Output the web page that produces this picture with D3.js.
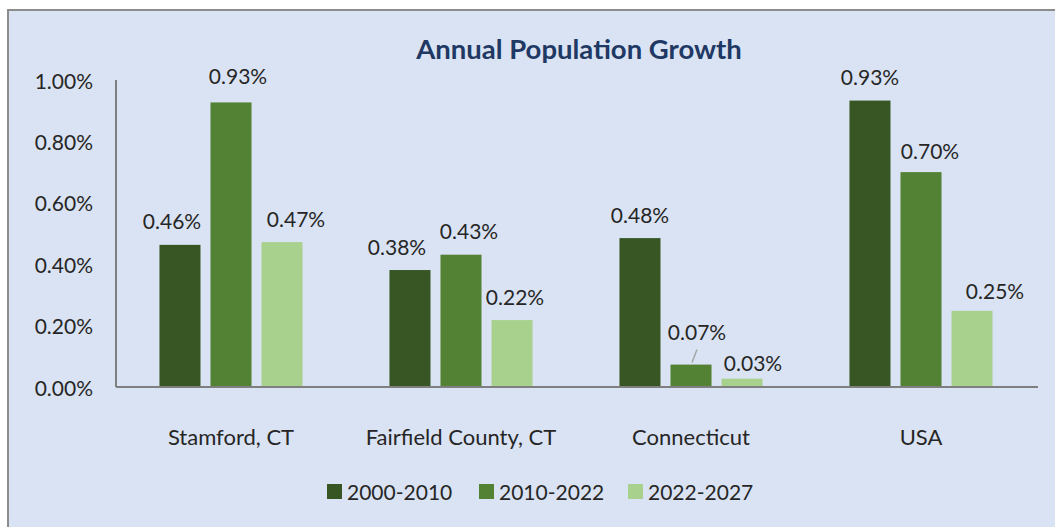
<!DOCTYPE html>
<html>
<head>
<meta charset="utf-8">
<script src="https://cdn.jsdelivr.net/npm/d3@7"></script>
<style>
  body { margin: 0; background: #fff; }
  svg text { font-family: Lato, "Open Sans", sans-serif; }
</style>
</head>
<body>
<svg id="chart" width="1055" height="527"></svg>
<script>
// data, in percent
const categories = ["Stamford, CT", "Fairfield County, CT", "Connecticut", "USA"];
const seriesNames = ["2000-2010", "2010-2022", "2022-2027"];
const growth2000_2010 = [0.463, 0.381, 0.485, 0.933];
const growth2010_2022 = [0.927, 0.431, 0.073, 0.700];
const growth2022_2027 = [0.472, 0.218, 0.027, 0.248];
const yTicks = [0, 0.2, 0.4, 0.6, 0.8, 1.0];

const seriesValues = [growth2000_2010, growth2010_2022, growth2022_2027];
const colors = ["#375623", "#548235", "#a9d18e"];

const svg = d3.select("#chart");
const width = +svg.attr("width");

// background + frame (right / bottom edges run off the picture)
svg.append("rect")
    .attr("x", 8).attr("y", 10)
    .attr("width", width + 10).attr("height", 540)
    .attr("fill", "#dae3f3")
    .attr("stroke", "#8c8c8c")
    .attr("stroke-width", 2);

const plotLeft = 116, plotRight = 1036, plotTop = 80, plotBottom = 387;

const x0 = d3.scaleBand()
    .domain(categories)
    .range([plotLeft, plotRight])
    .paddingInner(0.378)
    .paddingOuter(0.189);

const x1 = d3.scaleBand()
    .domain(seriesNames)
    .range([0, x0.bandwidth()])
    .paddingInner(0.196);

const y = d3.scaleLinear().domain([0, 1]).range([plotBottom, plotTop]);

svg.append("text")
    .attr("x", 579).attr("y", 48)
    .attr("text-anchor", "middle")
    .attr("dominant-baseline", "central")
    .attr("fill", "#1f3864")
    .style("font-size", "27.5px")
    .style("font-weight", "bold")
    .text("Annual Population Growth");

// y axis labels
svg.selectAll(".ytick")
    .data(yTicks)
    .enter().append("text")
    .attr("class", "ytick")
    .attr("x", 93)
    .attr("y", d => y(d))
    .attr("text-anchor", "end")
    .attr("dominant-baseline", "central")
    .attr("fill", "#262626")
    .style("font-size", "21px")
    .text(d => d.toFixed(2) + "%");

// bars
const rows = [];
categories.forEach((c, i) => {
    seriesNames.forEach((s, j) => {
        rows.push({ cat: c, series: s, si: j, ci: i, value: seriesValues[j][i] });
    });
});

svg.selectAll(".bar")
    .data(rows)
    .enter().append("rect")
    .attr("class", "bar")
    .attr("x", d => x0(d.cat) + x1(d.series))
    .attr("y", d => y(d.value))
    .attr("width", x1.bandwidth())
    .attr("height", d => y(0) - y(d.value))
    .attr("fill", d => colors[d.si]);

// axis lines
svg.append("line")
    .attr("x1", plotLeft).attr("x2", plotLeft)
    .attr("y1", plotTop).attr("y2", plotBottom)
    .attr("stroke", "#7f7f7f").attr("stroke-width", 2);
svg.append("line")
    .attr("x1", plotLeft).attr("x2", plotRight + 2)
    .attr("y1", plotBottom).attr("y2", plotBottom)
    .attr("stroke", "#7f7f7f").attr("stroke-width", 2);

// labels were hand-moved in the original, so nudge a few
const nudge = {
    "0-0": [-8, 0], "0-1": [7, -3], "0-2": [14, 0],
    "1-0": [-13, 0], "1-1": [8, 0], "1-2": [3, 0],
    "2-1": [6, -9], "2-2": [11, 8],
    "3-1": [9, 2], "3-2": [23, 4]
};

svg.selectAll(".val")
    .data(rows)
    .enter().append("text")
    .attr("class", "val")
    .attr("x", d => x0(d.cat) + x1(d.series) + x1.bandwidth() / 2 + (nudge[d.ci + "-" + d.si] || [0, 0])[0])
    .attr("y", d => y(d.value) - 24 + (nudge[d.ci + "-" + d.si] || [0, 0])[1])
    .attr("text-anchor", "middle")
    .attr("dominant-baseline", "central")
    .attr("fill", "#262626")
    .style("font-size", "21px")
    .text(d => d.value.toFixed(2) + "%");

// leader line for the small Connecticut label
const ctX = x0("Connecticut") + x1("2010-2022") + x1.bandwidth() / 2;
svg.append("line")
    .attr("x1", ctX + 6).attr("y1", y(growth2010_2022[2]) - 15)
    .attr("x2", ctX + 1).attr("y2", y(growth2010_2022[2]) - 2)
    .attr("stroke", "#a6a6a6").attr("stroke-width", 1.5);

// category labels
svg.selectAll(".cat")
    .data(categories)
    .enter().append("text")
    .attr("class", "cat")
    .attr("x", d => x0(d) + x0.bandwidth() / 2)
    .attr("y", 436)
    .attr("text-anchor", "middle")
    .attr("dominant-baseline", "central")
    .attr("fill", "#262626")
    .style("font-size", "22px")
    .text(d => d);

// legend
const legendX = [327, 479, 628];
const legend = svg.selectAll(".leg")
    .data(seriesNames)
    .enter().append("g")
    .attr("class", "leg")
    .attr("transform", (d, i) => `translate(${legendX[i]},491)`);
legend.append("rect")
    .attr("x", 0).attr("y", -7)
    .attr("width", 15).attr("height", 15)
    .attr("fill", (d, i) => colors[i]);
legend.append("text")
    .attr("x", 20).attr("y", 0)
    .attr("dominant-baseline", "central")
    .attr("fill", "#262626")
    .style("font-size", "21px")
    .text(d => d);
</script>
</body>
</html>
